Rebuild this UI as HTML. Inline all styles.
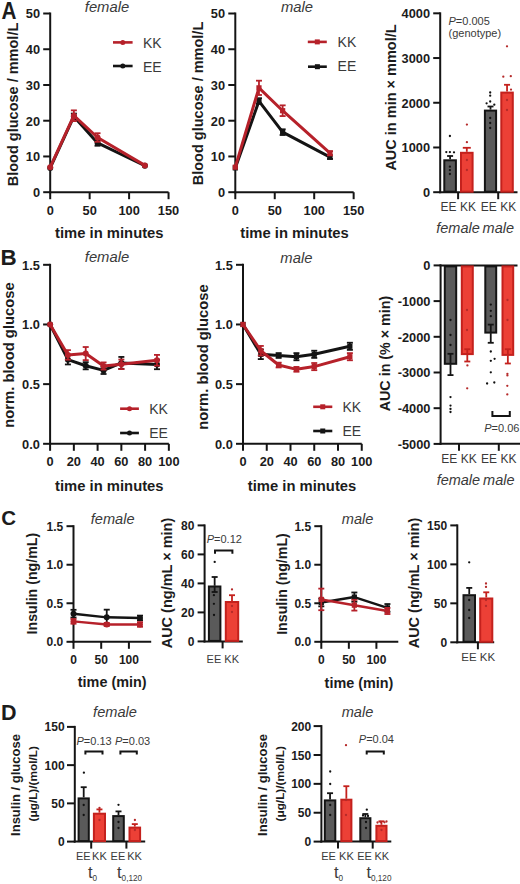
<!DOCTYPE html>
<html><head><meta charset="utf-8"><style>
html,body{margin:0;padding:0;background:#fff;width:520px;height:884px;overflow:hidden}
svg{display:block;font-family:"Liberation Sans", sans-serif}
</style></head><body>
<svg width="520" height="884" viewBox="0 0 520 884">
<text transform="translate(1.6 19) scale(0.9 1)" font-size="23" font-weight="bold" fill="#1c1c1c">A</text>
<line x1="50.2" y1="12.5" x2="50.2" y2="193.2" stroke="#141414" stroke-width="2" stroke-linecap="butt"/>
<line x1="43.2" y1="192.2" x2="50.2" y2="192.2" stroke="#141414" stroke-width="2" stroke-linecap="butt"/>
<text x="40" y="197.03" font-size="12.8" font-weight="bold" text-anchor="end" fill="#1c1c1c">0</text>
<line x1="43.2" y1="156.46" x2="50.2" y2="156.46" stroke="#141414" stroke-width="2" stroke-linecap="butt"/>
<text x="40" y="161.29" font-size="12.8" font-weight="bold" text-anchor="end" fill="#1c1c1c">10</text>
<line x1="43.2" y1="120.72" x2="50.2" y2="120.72" stroke="#141414" stroke-width="2" stroke-linecap="butt"/>
<text x="40" y="125.55" font-size="12.8" font-weight="bold" text-anchor="end" fill="#1c1c1c">20</text>
<line x1="43.2" y1="84.98" x2="50.2" y2="84.98" stroke="#141414" stroke-width="2" stroke-linecap="butt"/>
<text x="40" y="89.81" font-size="12.8" font-weight="bold" text-anchor="end" fill="#1c1c1c">30</text>
<line x1="43.2" y1="49.24" x2="50.2" y2="49.24" stroke="#141414" stroke-width="2" stroke-linecap="butt"/>
<text x="40" y="54.07" font-size="12.8" font-weight="bold" text-anchor="end" fill="#1c1c1c">40</text>
<line x1="43.2" y1="13.5" x2="50.2" y2="13.5" stroke="#141414" stroke-width="2" stroke-linecap="butt"/>
<text x="40" y="18.33" font-size="12.8" font-weight="bold" text-anchor="end" fill="#1c1c1c">50</text>
<line x1="49.2" y1="192.2" x2="168.55" y2="192.2" stroke="#141414" stroke-width="2" stroke-linecap="butt"/>
<line x1="50.2" y1="192.2" x2="50.2" y2="199.2" stroke="#141414" stroke-width="2" stroke-linecap="butt"/>
<text x="50.2" y="214.6" font-size="12.8" font-weight="bold" text-anchor="middle" fill="#1c1c1c">0</text>
<line x1="89.65" y1="192.2" x2="89.65" y2="199.2" stroke="#141414" stroke-width="2" stroke-linecap="butt"/>
<text x="89.65" y="214.6" font-size="12.8" font-weight="bold" text-anchor="middle" fill="#1c1c1c">50</text>
<line x1="129.1" y1="192.2" x2="129.1" y2="199.2" stroke="#141414" stroke-width="2" stroke-linecap="butt"/>
<text x="129.1" y="214.6" font-size="12.8" font-weight="bold" text-anchor="middle" fill="#1c1c1c">100</text>
<line x1="168.55" y1="192.2" x2="168.55" y2="199.2" stroke="#141414" stroke-width="2" stroke-linecap="butt"/>
<text x="168.55" y="214.6" font-size="12.8" font-weight="bold" text-anchor="middle" fill="#1c1c1c">150</text>
<text x="107" y="12" font-size="14.8" font-style="italic" text-anchor="middle" fill="#3a3a3a">female</text>
<text x="18.2" y="104.5" font-size="14.5" font-weight="bold" text-anchor="middle" fill="#1c1c1c" transform="rotate(-90 18.2 104.5)">Blood glucose / mmol/L</text>
<text x="109.3" y="238" font-size="14.8" font-weight="bold" text-anchor="middle" fill="#1c1c1c">time in minutes</text>
<path d="M50.20,167.90 L73.87,116.43 L97.54,142.88 L144.88,165.75" fill="none" stroke="#141414" stroke-width="3" stroke-linejoin="round"/>
<circle cx="50.2" cy="167.9" r="3" fill="#141414"/>
<line x1="73.87" y1="113.57" x2="73.87" y2="119.29" stroke="#141414" stroke-width="1.8" stroke-linecap="butt"/>
<line x1="70.87" y1="113.57" x2="76.87" y2="113.57" stroke="#141414" stroke-width="1.8" stroke-linecap="butt"/>
<line x1="70.87" y1="119.29" x2="76.87" y2="119.29" stroke="#141414" stroke-width="1.8" stroke-linecap="butt"/>
<circle cx="73.87" cy="116.43" r="3" fill="#141414"/>
<line x1="97.54" y1="140.02" x2="97.54" y2="145.74" stroke="#141414" stroke-width="1.8" stroke-linecap="butt"/>
<line x1="94.54" y1="140.02" x2="100.54" y2="140.02" stroke="#141414" stroke-width="1.8" stroke-linecap="butt"/>
<line x1="94.54" y1="145.74" x2="100.54" y2="145.74" stroke="#141414" stroke-width="1.8" stroke-linecap="butt"/>
<circle cx="97.54" cy="142.88" r="3" fill="#141414"/>
<circle cx="144.88" cy="165.75" r="3" fill="#141414"/>
<path d="M50.20,167.18 L73.87,115.72 L97.54,137.52 L144.88,165.39" fill="none" stroke="#b6212a" stroke-width="3" stroke-linejoin="round"/>
<circle cx="50.2" cy="167.18" r="3" fill="#b6212a"/>
<line x1="73.87" y1="110.36" x2="73.87" y2="121.08" stroke="#b6212a" stroke-width="1.8" stroke-linecap="butt"/>
<line x1="70.87" y1="110.36" x2="76.87" y2="110.36" stroke="#b6212a" stroke-width="1.8" stroke-linecap="butt"/>
<line x1="70.87" y1="121.08" x2="76.87" y2="121.08" stroke="#b6212a" stroke-width="1.8" stroke-linecap="butt"/>
<circle cx="73.87" cy="115.72" r="3" fill="#b6212a"/>
<line x1="97.54" y1="133.23" x2="97.54" y2="141.81" stroke="#b6212a" stroke-width="1.8" stroke-linecap="butt"/>
<line x1="94.54" y1="133.23" x2="100.54" y2="133.23" stroke="#b6212a" stroke-width="1.8" stroke-linecap="butt"/>
<line x1="94.54" y1="141.81" x2="100.54" y2="141.81" stroke="#b6212a" stroke-width="1.8" stroke-linecap="butt"/>
<circle cx="97.54" cy="137.52" r="3" fill="#b6212a"/>
<circle cx="144.88" cy="165.39" r="3" fill="#b6212a"/>
<line x1="113" y1="42.4" x2="132.6" y2="42.4" stroke="#b6212a" stroke-width="2.6" stroke-linecap="butt"/>
<circle cx="122.8" cy="42.4" r="2.5" fill="#b6212a"/>
<text x="143" y="47.5" font-size="14" text-anchor="start" fill="#3a3a3a">KK</text>
<line x1="113" y1="66" x2="132.6" y2="66" stroke="#141414" stroke-width="2.6" stroke-linecap="butt"/>
<circle cx="122.8" cy="66" r="2.5" fill="#141414"/>
<text x="143" y="71.7" font-size="14" text-anchor="start" fill="#3a3a3a">EE</text>
<line x1="235.3" y1="12.5" x2="235.3" y2="193.2" stroke="#141414" stroke-width="2" stroke-linecap="butt"/>
<line x1="228.3" y1="192.2" x2="235.3" y2="192.2" stroke="#141414" stroke-width="2" stroke-linecap="butt"/>
<text x="225.1" y="197.03" font-size="12.8" font-weight="bold" text-anchor="end" fill="#1c1c1c">0</text>
<line x1="228.3" y1="156.46" x2="235.3" y2="156.46" stroke="#141414" stroke-width="2" stroke-linecap="butt"/>
<text x="225.1" y="161.29" font-size="12.8" font-weight="bold" text-anchor="end" fill="#1c1c1c">10</text>
<line x1="228.3" y1="120.72" x2="235.3" y2="120.72" stroke="#141414" stroke-width="2" stroke-linecap="butt"/>
<text x="225.1" y="125.55" font-size="12.8" font-weight="bold" text-anchor="end" fill="#1c1c1c">20</text>
<line x1="228.3" y1="84.98" x2="235.3" y2="84.98" stroke="#141414" stroke-width="2" stroke-linecap="butt"/>
<text x="225.1" y="89.81" font-size="12.8" font-weight="bold" text-anchor="end" fill="#1c1c1c">30</text>
<line x1="228.3" y1="49.24" x2="235.3" y2="49.24" stroke="#141414" stroke-width="2" stroke-linecap="butt"/>
<text x="225.1" y="54.07" font-size="12.8" font-weight="bold" text-anchor="end" fill="#1c1c1c">40</text>
<line x1="228.3" y1="13.5" x2="235.3" y2="13.5" stroke="#141414" stroke-width="2" stroke-linecap="butt"/>
<text x="225.1" y="18.33" font-size="12.8" font-weight="bold" text-anchor="end" fill="#1c1c1c">50</text>
<line x1="234.3" y1="192.2" x2="353.65" y2="192.2" stroke="#141414" stroke-width="2" stroke-linecap="butt"/>
<line x1="235.3" y1="192.2" x2="235.3" y2="199.2" stroke="#141414" stroke-width="2" stroke-linecap="butt"/>
<text x="235.3" y="214.6" font-size="12.8" font-weight="bold" text-anchor="middle" fill="#1c1c1c">0</text>
<line x1="274.75" y1="192.2" x2="274.75" y2="199.2" stroke="#141414" stroke-width="2" stroke-linecap="butt"/>
<text x="274.75" y="214.6" font-size="12.8" font-weight="bold" text-anchor="middle" fill="#1c1c1c">50</text>
<line x1="314.2" y1="192.2" x2="314.2" y2="199.2" stroke="#141414" stroke-width="2" stroke-linecap="butt"/>
<text x="314.2" y="214.6" font-size="12.8" font-weight="bold" text-anchor="middle" fill="#1c1c1c">100</text>
<line x1="353.65" y1="192.2" x2="353.65" y2="199.2" stroke="#141414" stroke-width="2" stroke-linecap="butt"/>
<text x="353.65" y="214.6" font-size="12.8" font-weight="bold" text-anchor="middle" fill="#1c1c1c">150</text>
<text x="297" y="12.1" font-size="14.8" font-style="italic" text-anchor="middle" fill="#3a3a3a">male</text>
<text x="203.2" y="103.5" font-size="14.5" font-weight="bold" text-anchor="middle" fill="#1c1c1c" transform="rotate(-90 203.2 103.5)">Blood glucose / mmol/L</text>
<text x="294.5" y="238" font-size="14.8" font-weight="bold" text-anchor="middle" fill="#1c1c1c">time in minutes</text>
<path d="M235.30,167.90 L258.97,101.06 L282.64,132.16 L329.98,157.17" fill="none" stroke="#141414" stroke-width="3" stroke-linejoin="round"/>
<rect x="232.7" y="165.3" width="5.2" height="5.2" fill="#141414"/>
<line x1="258.97" y1="98.2" x2="258.97" y2="103.92" stroke="#141414" stroke-width="1.8" stroke-linecap="butt"/>
<line x1="255.97" y1="98.2" x2="261.97" y2="98.2" stroke="#141414" stroke-width="1.8" stroke-linecap="butt"/>
<line x1="255.97" y1="103.92" x2="261.97" y2="103.92" stroke="#141414" stroke-width="1.8" stroke-linecap="butt"/>
<rect x="256.37" y="98.46" width="5.2" height="5.2" fill="#141414"/>
<line x1="282.64" y1="129.3" x2="282.64" y2="135.02" stroke="#141414" stroke-width="1.8" stroke-linecap="butt"/>
<line x1="279.64" y1="129.3" x2="285.64" y2="129.3" stroke="#141414" stroke-width="1.8" stroke-linecap="butt"/>
<line x1="279.64" y1="135.02" x2="285.64" y2="135.02" stroke="#141414" stroke-width="1.8" stroke-linecap="butt"/>
<rect x="280.04" y="129.56" width="5.2" height="5.2" fill="#141414"/>
<line x1="329.98" y1="155.39" x2="329.98" y2="158.96" stroke="#141414" stroke-width="1.8" stroke-linecap="butt"/>
<line x1="326.98" y1="155.39" x2="332.98" y2="155.39" stroke="#141414" stroke-width="1.8" stroke-linecap="butt"/>
<line x1="326.98" y1="158.96" x2="332.98" y2="158.96" stroke="#141414" stroke-width="1.8" stroke-linecap="butt"/>
<rect x="327.38" y="154.57" width="5.2" height="5.2" fill="#141414"/>
<path d="M235.30,167.18 L258.97,87.84 L282.64,110.71 L329.98,153.24" fill="none" stroke="#b6212a" stroke-width="3" stroke-linejoin="round"/>
<rect x="232.7" y="164.58" width="5.2" height="5.2" fill="#b6212a"/>
<line x1="258.97" y1="80.69" x2="258.97" y2="94.99" stroke="#b6212a" stroke-width="1.8" stroke-linecap="butt"/>
<line x1="255.97" y1="80.69" x2="261.97" y2="80.69" stroke="#b6212a" stroke-width="1.8" stroke-linecap="butt"/>
<line x1="255.97" y1="94.99" x2="261.97" y2="94.99" stroke="#b6212a" stroke-width="1.8" stroke-linecap="butt"/>
<rect x="256.37" y="85.24" width="5.2" height="5.2" fill="#b6212a"/>
<line x1="282.64" y1="105.35" x2="282.64" y2="116.07" stroke="#b6212a" stroke-width="1.8" stroke-linecap="butt"/>
<line x1="279.64" y1="105.35" x2="285.64" y2="105.35" stroke="#b6212a" stroke-width="1.8" stroke-linecap="butt"/>
<line x1="279.64" y1="116.07" x2="285.64" y2="116.07" stroke="#b6212a" stroke-width="1.8" stroke-linecap="butt"/>
<rect x="280.04" y="108.11" width="5.2" height="5.2" fill="#b6212a"/>
<line x1="329.98" y1="151.1" x2="329.98" y2="155.39" stroke="#b6212a" stroke-width="1.8" stroke-linecap="butt"/>
<line x1="326.98" y1="151.1" x2="332.98" y2="151.1" stroke="#b6212a" stroke-width="1.8" stroke-linecap="butt"/>
<line x1="326.98" y1="155.39" x2="332.98" y2="155.39" stroke="#b6212a" stroke-width="1.8" stroke-linecap="butt"/>
<rect x="327.38" y="150.64" width="5.2" height="5.2" fill="#b6212a"/>
<line x1="307.8" y1="41.9" x2="326.8" y2="41.9" stroke="#b6212a" stroke-width="2.6" stroke-linecap="butt"/>
<rect x="314.8" y="39.4" width="5" height="5" fill="#b6212a"/>
<text x="337.6" y="47.3" font-size="14" text-anchor="start" fill="#3a3a3a">KK</text>
<line x1="308" y1="66.7" x2="326.8" y2="66.7" stroke="#141414" stroke-width="2.6" stroke-linecap="butt"/>
<rect x="314.9" y="64.2" width="5" height="5" fill="#141414"/>
<text x="337.6" y="71" font-size="14" text-anchor="start" fill="#3a3a3a">EE</text>
<line x1="440.2" y1="12.32" x2="440.2" y2="193.2" stroke="#141414" stroke-width="2" stroke-linecap="butt"/>
<line x1="433.2" y1="192.2" x2="440.2" y2="192.2" stroke="#141414" stroke-width="2" stroke-linecap="butt"/>
<text x="430" y="197.03" font-size="12.8" font-weight="bold" text-anchor="end" fill="#1c1c1c">0</text>
<line x1="433.2" y1="147.48" x2="440.2" y2="147.48" stroke="#141414" stroke-width="2" stroke-linecap="butt"/>
<text x="430" y="152.31" font-size="12.8" font-weight="bold" text-anchor="end" fill="#1c1c1c">1000</text>
<line x1="433.2" y1="102.76" x2="440.2" y2="102.76" stroke="#141414" stroke-width="2" stroke-linecap="butt"/>
<text x="430" y="107.59" font-size="12.8" font-weight="bold" text-anchor="end" fill="#1c1c1c">2000</text>
<line x1="433.2" y1="58.04" x2="440.2" y2="58.04" stroke="#141414" stroke-width="2" stroke-linecap="butt"/>
<text x="430" y="62.87" font-size="12.8" font-weight="bold" text-anchor="end" fill="#1c1c1c">3000</text>
<line x1="433.2" y1="13.32" x2="440.2" y2="13.32" stroke="#141414" stroke-width="2" stroke-linecap="butt"/>
<text x="430" y="18.15" font-size="12.8" font-weight="bold" text-anchor="end" fill="#1c1c1c">4000</text>
<line x1="439.2" y1="192.2" x2="517.5" y2="192.2" stroke="#141414" stroke-width="2" stroke-linecap="butt"/>
<line x1="458.1" y1="192.2" x2="458.1" y2="199.2" stroke="#141414" stroke-width="2" stroke-linecap="butt"/>
<line x1="498.2" y1="192.2" x2="498.2" y2="199.2" stroke="#141414" stroke-width="2" stroke-linecap="butt"/>
<rect x="444.3" y="160.3" width="11.6" height="31.4" fill="#5a5a5a" stroke="#141414" stroke-width="2"/>
<line x1="450.1" y1="159.3" x2="450.1" y2="156" stroke="#141414" stroke-width="1.8" stroke-linecap="butt"/>
<line x1="447.1" y1="156" x2="453.1" y2="156" stroke="#141414" stroke-width="1.8" stroke-linecap="butt"/>
<circle cx="449.9" cy="136" r="1.15" fill="#111"/>
<circle cx="446.3" cy="152.1" r="1.15" fill="#111"/>
<circle cx="449.9" cy="152.1" r="1.15" fill="#111"/>
<circle cx="454" cy="152.3" r="1.15" fill="#111"/>
<circle cx="449.9" cy="166.7" r="1.15" fill="#111"/>
<circle cx="449.9" cy="170.1" r="1.15" fill="#111"/>
<circle cx="449.9" cy="174" r="1.15" fill="#111"/>
<rect x="461" y="152.8" width="11.6" height="38.9" fill="#ec4036" stroke="#c4211d" stroke-width="2"/>
<line x1="466.8" y1="151.8" x2="466.8" y2="147.8" stroke="#c4211d" stroke-width="1.8" stroke-linecap="butt"/>
<line x1="462.8" y1="147.8" x2="470.8" y2="147.8" stroke="#c4211d" stroke-width="1.8" stroke-linecap="butt"/>
<circle cx="466.9" cy="124.6" r="1.15" fill="#b52a2a"/>
<circle cx="466.9" cy="142.2" r="1.15" fill="#b52a2a"/>
<circle cx="466.9" cy="160" r="1.15" fill="#b52a2a"/>
<circle cx="466.9" cy="170" r="1.15" fill="#b52a2a"/>
<rect x="484.9" y="110.6" width="11.2" height="81.1" fill="#5a5a5a" stroke="#141414" stroke-width="2"/>
<line x1="490.5" y1="109.6" x2="490.5" y2="106.5" stroke="#141414" stroke-width="1.8" stroke-linecap="butt"/>
<line x1="487.5" y1="106.5" x2="493.5" y2="106.5" stroke="#141414" stroke-width="1.8" stroke-linecap="butt"/>
<circle cx="490.2" cy="92.5" r="1.15" fill="#111"/>
<circle cx="490.2" cy="95.7" r="1.15" fill="#111"/>
<circle cx="490.2" cy="101.5" r="1.15" fill="#111"/>
<circle cx="486.6" cy="103.3" r="1.15" fill="#111"/>
<circle cx="494.3" cy="104.7" r="1.15" fill="#111"/>
<circle cx="490.2" cy="118" r="1.15" fill="#111"/>
<circle cx="490.2" cy="123" r="1.15" fill="#111"/>
<circle cx="490.2" cy="128" r="1.15" fill="#111"/>
<rect x="501.3" y="92.6" width="11.5" height="99.1" fill="#ec4036" stroke="#c4211d" stroke-width="2"/>
<line x1="507.05" y1="91.6" x2="507.05" y2="84.8" stroke="#c4211d" stroke-width="1.8" stroke-linecap="butt"/>
<line x1="504.05" y1="84.8" x2="510.05" y2="84.8" stroke="#c4211d" stroke-width="1.8" stroke-linecap="butt"/>
<circle cx="507" cy="46.3" r="1.15" fill="#b52a2a"/>
<circle cx="503.3" cy="76.7" r="1.15" fill="#b52a2a"/>
<circle cx="510.8" cy="76.2" r="1.15" fill="#b52a2a"/>
<circle cx="511" cy="89.6" r="1.15" fill="#b52a2a"/>
<circle cx="507" cy="100" r="1.15" fill="#b52a2a"/>
<circle cx="507" cy="110" r="1.15" fill="#b52a2a"/>
<text x="395.6" y="97.5" font-size="14.5" font-weight="bold" text-anchor="middle" fill="#1c1c1c" transform="rotate(-90 395.6 97.5)">AUC in min × mmol/L</text>
<text x="448.5" y="24.6" font-size="11" fill="#3a3a3a"><tspan font-style="italic">P</tspan>=0.005</text>
<text x="448.5" y="37.4" font-size="11" text-anchor="start" fill="#3a3a3a">(genotype)</text>
<text x="458.3" y="210.8" font-size="12" text-anchor="middle" fill="#3a3a3a">EE KK</text>
<text x="498.5" y="210.8" font-size="12" text-anchor="middle" fill="#3a3a3a">EE KK</text>
<text x="458" y="233.3" font-size="14.5" font-style="italic" text-anchor="middle" fill="#3a3a3a">female</text>
<text x="498.3" y="233.3" font-size="14.5" font-style="italic" text-anchor="middle" fill="#3a3a3a">male</text>
<text x="0.5" y="265.2" font-size="22.4" font-weight="bold" text-anchor="start" fill="#1c1c1c">B</text>
<line x1="50.1" y1="263.81" x2="50.1" y2="444.8" stroke="#141414" stroke-width="2" stroke-linecap="butt"/>
<line x1="43.1" y1="443.8" x2="50.1" y2="443.8" stroke="#141414" stroke-width="2" stroke-linecap="butt"/>
<text x="39.9" y="448.63" font-size="12.8" font-weight="bold" text-anchor="end" fill="#1c1c1c">0.0</text>
<line x1="43.1" y1="384.13" x2="50.1" y2="384.13" stroke="#141414" stroke-width="2" stroke-linecap="butt"/>
<text x="39.9" y="388.96" font-size="12.8" font-weight="bold" text-anchor="end" fill="#1c1c1c">0.5</text>
<line x1="43.1" y1="324.47" x2="50.1" y2="324.47" stroke="#141414" stroke-width="2" stroke-linecap="butt"/>
<text x="39.9" y="329.3" font-size="12.8" font-weight="bold" text-anchor="end" fill="#1c1c1c">1.0</text>
<line x1="43.1" y1="264.81" x2="50.1" y2="264.81" stroke="#141414" stroke-width="2" stroke-linecap="butt"/>
<text x="39.9" y="269.63" font-size="12.8" font-weight="bold" text-anchor="end" fill="#1c1c1c">1.5</text>
<line x1="49.1" y1="443.8" x2="168.85" y2="443.8" stroke="#141414" stroke-width="2" stroke-linecap="butt"/>
<line x1="50.1" y1="443.8" x2="50.1" y2="450.8" stroke="#141414" stroke-width="2" stroke-linecap="butt"/>
<text x="50.1" y="466.2" font-size="12.8" font-weight="bold" text-anchor="middle" fill="#1c1c1c">0</text>
<line x1="73.85" y1="443.8" x2="73.85" y2="450.8" stroke="#141414" stroke-width="2" stroke-linecap="butt"/>
<text x="73.85" y="466.2" font-size="12.8" font-weight="bold" text-anchor="middle" fill="#1c1c1c">20</text>
<line x1="97.6" y1="443.8" x2="97.6" y2="450.8" stroke="#141414" stroke-width="2" stroke-linecap="butt"/>
<text x="97.6" y="466.2" font-size="12.8" font-weight="bold" text-anchor="middle" fill="#1c1c1c">40</text>
<line x1="121.35" y1="443.8" x2="121.35" y2="450.8" stroke="#141414" stroke-width="2" stroke-linecap="butt"/>
<text x="121.35" y="466.2" font-size="12.8" font-weight="bold" text-anchor="middle" fill="#1c1c1c">60</text>
<line x1="145.1" y1="443.8" x2="145.1" y2="450.8" stroke="#141414" stroke-width="2" stroke-linecap="butt"/>
<text x="145.1" y="466.2" font-size="12.8" font-weight="bold" text-anchor="middle" fill="#1c1c1c">80</text>
<line x1="168.85" y1="443.8" x2="168.85" y2="450.8" stroke="#141414" stroke-width="2" stroke-linecap="butt"/>
<text x="168.85" y="466.2" font-size="12.8" font-weight="bold" text-anchor="middle" fill="#1c1c1c">100</text>
<text x="107" y="262.2" font-size="14.8" font-style="italic" text-anchor="middle" fill="#3a3a3a">female</text>
<text x="14.3" y="355" font-size="14.8" font-weight="bold" text-anchor="middle" fill="#1c1c1c" transform="rotate(-90 14.3 355)">norm. blood glucose</text>
<text x="109.3" y="490.6" font-size="14.8" font-weight="bold" text-anchor="middle" fill="#1c1c1c">time in minutes</text>
<path d="M50.10,324.47 L67.91,359.67 L85.72,365.76 L103.54,370.41 L121.35,362.89 L156.97,364.45" fill="none" stroke="#141414" stroke-width="3" stroke-linejoin="round"/>
<circle cx="50.1" cy="324.47" r="3" fill="#141414"/>
<line x1="67.91" y1="354.9" x2="67.91" y2="364.45" stroke="#141414" stroke-width="1.8" stroke-linecap="butt"/>
<line x1="64.91" y1="354.9" x2="70.91" y2="354.9" stroke="#141414" stroke-width="1.8" stroke-linecap="butt"/>
<line x1="64.91" y1="364.45" x2="70.91" y2="364.45" stroke="#141414" stroke-width="1.8" stroke-linecap="butt"/>
<circle cx="67.91" cy="359.67" r="3" fill="#141414"/>
<line x1="85.72" y1="362.18" x2="85.72" y2="369.34" stroke="#141414" stroke-width="1.8" stroke-linecap="butt"/>
<line x1="82.72" y1="362.18" x2="88.72" y2="362.18" stroke="#141414" stroke-width="1.8" stroke-linecap="butt"/>
<line x1="82.72" y1="369.34" x2="88.72" y2="369.34" stroke="#141414" stroke-width="1.8" stroke-linecap="butt"/>
<circle cx="85.72" cy="365.76" r="3" fill="#141414"/>
<line x1="103.54" y1="366.83" x2="103.54" y2="373.99" stroke="#141414" stroke-width="1.8" stroke-linecap="butt"/>
<line x1="100.54" y1="366.83" x2="106.54" y2="366.83" stroke="#141414" stroke-width="1.8" stroke-linecap="butt"/>
<line x1="100.54" y1="373.99" x2="106.54" y2="373.99" stroke="#141414" stroke-width="1.8" stroke-linecap="butt"/>
<circle cx="103.54" cy="370.41" r="3" fill="#141414"/>
<line x1="121.35" y1="356.93" x2="121.35" y2="368.86" stroke="#141414" stroke-width="1.8" stroke-linecap="butt"/>
<line x1="118.35" y1="356.93" x2="124.35" y2="356.93" stroke="#141414" stroke-width="1.8" stroke-linecap="butt"/>
<line x1="118.35" y1="368.86" x2="124.35" y2="368.86" stroke="#141414" stroke-width="1.8" stroke-linecap="butt"/>
<circle cx="121.35" cy="362.89" r="3" fill="#141414"/>
<line x1="156.97" y1="359.67" x2="156.97" y2="369.22" stroke="#141414" stroke-width="1.8" stroke-linecap="butt"/>
<line x1="153.97" y1="359.67" x2="159.97" y2="359.67" stroke="#141414" stroke-width="1.8" stroke-linecap="butt"/>
<line x1="153.97" y1="369.22" x2="159.97" y2="369.22" stroke="#141414" stroke-width="1.8" stroke-linecap="butt"/>
<circle cx="156.97" cy="364.45" r="3" fill="#141414"/>
<path d="M50.10,324.47 L67.91,354.90 L85.72,353.59 L103.54,366.00 L121.35,364.33 L156.97,360.27" fill="none" stroke="#b6212a" stroke-width="3" stroke-linejoin="round"/>
<circle cx="50.1" cy="324.47" r="3" fill="#b6212a"/>
<line x1="67.91" y1="350.13" x2="67.91" y2="359.67" stroke="#b6212a" stroke-width="1.8" stroke-linecap="butt"/>
<line x1="64.91" y1="350.13" x2="70.91" y2="350.13" stroke="#b6212a" stroke-width="1.8" stroke-linecap="butt"/>
<line x1="64.91" y1="359.67" x2="70.91" y2="359.67" stroke="#b6212a" stroke-width="1.8" stroke-linecap="butt"/>
<circle cx="67.91" cy="354.9" r="3" fill="#b6212a"/>
<line x1="85.72" y1="347.02" x2="85.72" y2="360.15" stroke="#b6212a" stroke-width="1.8" stroke-linecap="butt"/>
<line x1="82.72" y1="347.02" x2="88.72" y2="347.02" stroke="#b6212a" stroke-width="1.8" stroke-linecap="butt"/>
<line x1="82.72" y1="360.15" x2="88.72" y2="360.15" stroke="#b6212a" stroke-width="1.8" stroke-linecap="butt"/>
<circle cx="85.72" cy="353.59" r="3" fill="#b6212a"/>
<line x1="103.54" y1="362.42" x2="103.54" y2="369.58" stroke="#b6212a" stroke-width="1.8" stroke-linecap="butt"/>
<line x1="100.54" y1="362.42" x2="106.54" y2="362.42" stroke="#b6212a" stroke-width="1.8" stroke-linecap="butt"/>
<line x1="100.54" y1="369.58" x2="106.54" y2="369.58" stroke="#b6212a" stroke-width="1.8" stroke-linecap="butt"/>
<circle cx="103.54" cy="366" r="3" fill="#b6212a"/>
<line x1="121.35" y1="359.55" x2="121.35" y2="369.1" stroke="#b6212a" stroke-width="1.8" stroke-linecap="butt"/>
<line x1="118.35" y1="359.55" x2="124.35" y2="359.55" stroke="#b6212a" stroke-width="1.8" stroke-linecap="butt"/>
<line x1="118.35" y1="369.1" x2="124.35" y2="369.1" stroke="#b6212a" stroke-width="1.8" stroke-linecap="butt"/>
<circle cx="121.35" cy="364.33" r="3" fill="#b6212a"/>
<line x1="156.97" y1="354.9" x2="156.97" y2="365.64" stroke="#b6212a" stroke-width="1.8" stroke-linecap="butt"/>
<line x1="153.97" y1="354.9" x2="159.97" y2="354.9" stroke="#b6212a" stroke-width="1.8" stroke-linecap="butt"/>
<line x1="153.97" y1="365.64" x2="159.97" y2="365.64" stroke="#b6212a" stroke-width="1.8" stroke-linecap="butt"/>
<circle cx="156.97" cy="360.27" r="3" fill="#b6212a"/>
<line x1="120.1" y1="408.7" x2="138.9" y2="408.7" stroke="#b6212a" stroke-width="2.6" stroke-linecap="butt"/>
<circle cx="129.5" cy="408.7" r="2.5" fill="#b6212a"/>
<text x="149.2" y="413.8" font-size="14" text-anchor="start" fill="#3a3a3a">KK</text>
<line x1="120.1" y1="433" x2="138.9" y2="433" stroke="#141414" stroke-width="2.6" stroke-linecap="butt"/>
<circle cx="129.5" cy="433" r="2.5" fill="#141414"/>
<text x="149.2" y="438.3" font-size="14" text-anchor="start" fill="#3a3a3a">EE</text>
<line x1="243" y1="263.81" x2="243" y2="444.8" stroke="#141414" stroke-width="2" stroke-linecap="butt"/>
<line x1="236" y1="443.8" x2="243" y2="443.8" stroke="#141414" stroke-width="2" stroke-linecap="butt"/>
<text x="232.8" y="448.63" font-size="12.8" font-weight="bold" text-anchor="end" fill="#1c1c1c">0.0</text>
<line x1="236" y1="384.13" x2="243" y2="384.13" stroke="#141414" stroke-width="2" stroke-linecap="butt"/>
<text x="232.8" y="388.96" font-size="12.8" font-weight="bold" text-anchor="end" fill="#1c1c1c">0.5</text>
<line x1="236" y1="324.47" x2="243" y2="324.47" stroke="#141414" stroke-width="2" stroke-linecap="butt"/>
<text x="232.8" y="329.3" font-size="12.8" font-weight="bold" text-anchor="end" fill="#1c1c1c">1.0</text>
<line x1="236" y1="264.81" x2="243" y2="264.81" stroke="#141414" stroke-width="2" stroke-linecap="butt"/>
<text x="232.8" y="269.63" font-size="12.8" font-weight="bold" text-anchor="end" fill="#1c1c1c">1.5</text>
<line x1="242" y1="443.8" x2="361.75" y2="443.8" stroke="#141414" stroke-width="2" stroke-linecap="butt"/>
<line x1="243" y1="443.8" x2="243" y2="450.8" stroke="#141414" stroke-width="2" stroke-linecap="butt"/>
<text x="243" y="466.2" font-size="12.8" font-weight="bold" text-anchor="middle" fill="#1c1c1c">0</text>
<line x1="266.75" y1="443.8" x2="266.75" y2="450.8" stroke="#141414" stroke-width="2" stroke-linecap="butt"/>
<text x="266.75" y="466.2" font-size="12.8" font-weight="bold" text-anchor="middle" fill="#1c1c1c">20</text>
<line x1="290.5" y1="443.8" x2="290.5" y2="450.8" stroke="#141414" stroke-width="2" stroke-linecap="butt"/>
<text x="290.5" y="466.2" font-size="12.8" font-weight="bold" text-anchor="middle" fill="#1c1c1c">40</text>
<line x1="314.25" y1="443.8" x2="314.25" y2="450.8" stroke="#141414" stroke-width="2" stroke-linecap="butt"/>
<text x="314.25" y="466.2" font-size="12.8" font-weight="bold" text-anchor="middle" fill="#1c1c1c">60</text>
<line x1="338" y1="443.8" x2="338" y2="450.8" stroke="#141414" stroke-width="2" stroke-linecap="butt"/>
<text x="338" y="466.2" font-size="12.8" font-weight="bold" text-anchor="middle" fill="#1c1c1c">80</text>
<line x1="361.75" y1="443.8" x2="361.75" y2="450.8" stroke="#141414" stroke-width="2" stroke-linecap="butt"/>
<text x="361.75" y="466.2" font-size="12.8" font-weight="bold" text-anchor="middle" fill="#1c1c1c">100</text>
<text x="296.4" y="262.7" font-size="14.8" font-style="italic" text-anchor="middle" fill="#3a3a3a">male</text>
<text x="207.5" y="357" font-size="14.8" font-weight="bold" text-anchor="middle" fill="#1c1c1c" transform="rotate(-90 207.5 357)">norm. blood glucose</text>
<text x="302" y="490.6" font-size="14.8" font-weight="bold" text-anchor="middle" fill="#1c1c1c">time in minutes</text>
<path d="M243.00,324.47 L260.81,354.30 L278.62,355.50 L296.44,356.69 L314.25,354.30 L349.88,346.31" fill="none" stroke="#141414" stroke-width="3" stroke-linejoin="round"/>
<rect x="240.4" y="321.87" width="5.2" height="5.2" fill="#141414"/>
<line x1="260.81" y1="349.53" x2="260.81" y2="359.08" stroke="#141414" stroke-width="1.8" stroke-linecap="butt"/>
<line x1="257.81" y1="349.53" x2="263.81" y2="349.53" stroke="#141414" stroke-width="1.8" stroke-linecap="butt"/>
<line x1="257.81" y1="359.08" x2="263.81" y2="359.08" stroke="#141414" stroke-width="1.8" stroke-linecap="butt"/>
<rect x="258.21" y="351.7" width="5.2" height="5.2" fill="#141414"/>
<line x1="278.62" y1="353.11" x2="278.62" y2="357.88" stroke="#141414" stroke-width="1.8" stroke-linecap="butt"/>
<line x1="275.62" y1="353.11" x2="281.62" y2="353.11" stroke="#141414" stroke-width="1.8" stroke-linecap="butt"/>
<line x1="275.62" y1="357.88" x2="281.62" y2="357.88" stroke="#141414" stroke-width="1.8" stroke-linecap="butt"/>
<rect x="276.02" y="352.9" width="5.2" height="5.2" fill="#141414"/>
<line x1="296.44" y1="353.11" x2="296.44" y2="360.27" stroke="#141414" stroke-width="1.8" stroke-linecap="butt"/>
<line x1="293.44" y1="353.11" x2="299.44" y2="353.11" stroke="#141414" stroke-width="1.8" stroke-linecap="butt"/>
<line x1="293.44" y1="360.27" x2="299.44" y2="360.27" stroke="#141414" stroke-width="1.8" stroke-linecap="butt"/>
<rect x="293.84" y="354.09" width="5.2" height="5.2" fill="#141414"/>
<line x1="314.25" y1="350.72" x2="314.25" y2="357.88" stroke="#141414" stroke-width="1.8" stroke-linecap="butt"/>
<line x1="311.25" y1="350.72" x2="317.25" y2="350.72" stroke="#141414" stroke-width="1.8" stroke-linecap="butt"/>
<line x1="311.25" y1="357.88" x2="317.25" y2="357.88" stroke="#141414" stroke-width="1.8" stroke-linecap="butt"/>
<rect x="311.65" y="351.7" width="5.2" height="5.2" fill="#141414"/>
<line x1="349.88" y1="342.73" x2="349.88" y2="349.89" stroke="#141414" stroke-width="1.8" stroke-linecap="butt"/>
<line x1="346.88" y1="342.73" x2="352.88" y2="342.73" stroke="#141414" stroke-width="1.8" stroke-linecap="butt"/>
<line x1="346.88" y1="349.89" x2="352.88" y2="349.89" stroke="#141414" stroke-width="1.8" stroke-linecap="butt"/>
<rect x="347.27" y="343.71" width="5.2" height="5.2" fill="#141414"/>
<path d="M243.00,324.47 L260.81,350.72 L278.62,365.04 L296.44,369.34 L314.25,366.59 L349.88,356.69" fill="none" stroke="#b6212a" stroke-width="3" stroke-linejoin="round"/>
<rect x="240.4" y="321.87" width="5.2" height="5.2" fill="#b6212a"/>
<line x1="260.81" y1="345.95" x2="260.81" y2="355.5" stroke="#b6212a" stroke-width="1.8" stroke-linecap="butt"/>
<line x1="257.81" y1="345.95" x2="263.81" y2="345.95" stroke="#b6212a" stroke-width="1.8" stroke-linecap="butt"/>
<line x1="257.81" y1="355.5" x2="263.81" y2="355.5" stroke="#b6212a" stroke-width="1.8" stroke-linecap="butt"/>
<rect x="258.21" y="348.12" width="5.2" height="5.2" fill="#b6212a"/>
<line x1="278.62" y1="362.66" x2="278.62" y2="367.43" stroke="#b6212a" stroke-width="1.8" stroke-linecap="butt"/>
<line x1="275.62" y1="362.66" x2="281.62" y2="362.66" stroke="#b6212a" stroke-width="1.8" stroke-linecap="butt"/>
<line x1="275.62" y1="367.43" x2="281.62" y2="367.43" stroke="#b6212a" stroke-width="1.8" stroke-linecap="butt"/>
<rect x="276.02" y="362.44" width="5.2" height="5.2" fill="#b6212a"/>
<line x1="296.44" y1="366.95" x2="296.44" y2="371.72" stroke="#b6212a" stroke-width="1.8" stroke-linecap="butt"/>
<line x1="293.44" y1="366.95" x2="299.44" y2="366.95" stroke="#b6212a" stroke-width="1.8" stroke-linecap="butt"/>
<line x1="293.44" y1="371.72" x2="299.44" y2="371.72" stroke="#b6212a" stroke-width="1.8" stroke-linecap="butt"/>
<rect x="293.84" y="366.74" width="5.2" height="5.2" fill="#b6212a"/>
<line x1="314.25" y1="363.01" x2="314.25" y2="370.17" stroke="#b6212a" stroke-width="1.8" stroke-linecap="butt"/>
<line x1="311.25" y1="363.01" x2="317.25" y2="363.01" stroke="#b6212a" stroke-width="1.8" stroke-linecap="butt"/>
<line x1="311.25" y1="370.17" x2="317.25" y2="370.17" stroke="#b6212a" stroke-width="1.8" stroke-linecap="butt"/>
<rect x="311.65" y="363.99" width="5.2" height="5.2" fill="#b6212a"/>
<line x1="349.88" y1="353.11" x2="349.88" y2="360.27" stroke="#b6212a" stroke-width="1.8" stroke-linecap="butt"/>
<line x1="346.88" y1="353.11" x2="352.88" y2="353.11" stroke="#b6212a" stroke-width="1.8" stroke-linecap="butt"/>
<line x1="346.88" y1="360.27" x2="352.88" y2="360.27" stroke="#b6212a" stroke-width="1.8" stroke-linecap="butt"/>
<rect x="347.27" y="354.09" width="5.2" height="5.2" fill="#b6212a"/>
<line x1="313.2" y1="406.8" x2="332.3" y2="406.8" stroke="#b6212a" stroke-width="2.6" stroke-linecap="butt"/>
<rect x="320.25" y="404.3" width="5" height="5" fill="#b6212a"/>
<text x="342.5" y="411.8" font-size="14" text-anchor="start" fill="#3a3a3a">KK</text>
<line x1="313.2" y1="431" x2="332.3" y2="431" stroke="#141414" stroke-width="2.6" stroke-linecap="butt"/>
<rect x="320.25" y="428.5" width="5" height="5" fill="#141414"/>
<text x="342.5" y="435.8" font-size="14" text-anchor="start" fill="#3a3a3a">EE</text>
<line x1="440.6" y1="264.4" x2="440.6" y2="444.9" stroke="#141414" stroke-width="2" stroke-linecap="butt"/>
<line x1="433.6" y1="265.4" x2="440.6" y2="265.4" stroke="#141414" stroke-width="2" stroke-linecap="butt"/>
<text x="430.4" y="270.23" font-size="12.8" font-weight="bold" text-anchor="end" fill="#1c1c1c">0</text>
<line x1="433.6" y1="301.1" x2="440.6" y2="301.1" stroke="#141414" stroke-width="2" stroke-linecap="butt"/>
<text x="430.4" y="305.93" font-size="12.8" font-weight="bold" text-anchor="end" fill="#1c1c1c">-1000</text>
<line x1="433.6" y1="336.8" x2="440.6" y2="336.8" stroke="#141414" stroke-width="2" stroke-linecap="butt"/>
<text x="430.4" y="341.63" font-size="12.8" font-weight="bold" text-anchor="end" fill="#1c1c1c">-2000</text>
<line x1="433.6" y1="372.5" x2="440.6" y2="372.5" stroke="#141414" stroke-width="2" stroke-linecap="butt"/>
<text x="430.4" y="377.33" font-size="12.8" font-weight="bold" text-anchor="end" fill="#1c1c1c">-3000</text>
<line x1="433.6" y1="408.2" x2="440.6" y2="408.2" stroke="#141414" stroke-width="2" stroke-linecap="butt"/>
<text x="430.4" y="413.03" font-size="12.8" font-weight="bold" text-anchor="end" fill="#1c1c1c">-4000</text>
<line x1="433.6" y1="443.9" x2="440.6" y2="443.9" stroke="#141414" stroke-width="2" stroke-linecap="butt"/>
<text x="430.4" y="448.73" font-size="12.8" font-weight="bold" text-anchor="end" fill="#1c1c1c">-5000</text>
<line x1="439.6" y1="265.4" x2="517.5" y2="265.4" stroke="#141414" stroke-width="2" stroke-linecap="butt"/>
<line x1="439.6" y1="443.8" x2="520" y2="443.8" stroke="#141414" stroke-width="2" stroke-linecap="butt"/>
<line x1="459" y1="443.8" x2="459" y2="450.8" stroke="#141414" stroke-width="2" stroke-linecap="butt"/>
<line x1="498.8" y1="443.8" x2="498.8" y2="450.8" stroke="#141414" stroke-width="2" stroke-linecap="butt"/>
<rect x="444.8" y="266.4" width="11.4" height="97.4" fill="#5a5a5a" stroke="#141414" stroke-width="2"/>
<line x1="450.5" y1="364.3" x2="450.5" y2="375.1" stroke="#141414" stroke-width="1.8" stroke-linecap="butt"/>
<line x1="447.5" y1="375.1" x2="453.5" y2="375.1" stroke="#141414" stroke-width="1.8" stroke-linecap="butt"/>
<line x1="450.5" y1="364.3" x2="450.5" y2="353.8" stroke="#141414" stroke-width="1.8" stroke-linecap="butt"/>
<line x1="447.5" y1="353.8" x2="453.5" y2="353.8" stroke="#141414" stroke-width="1.8" stroke-linecap="butt"/>
<circle cx="450.5" cy="397.1" r="1.15" fill="#111"/>
<circle cx="450.5" cy="405.6" r="1.15" fill="#111"/>
<circle cx="450.5" cy="408.9" r="1.15" fill="#111"/>
<circle cx="450.5" cy="412" r="1.15" fill="#111"/>
<circle cx="450.5" cy="320" r="1.15" fill="#111"/>
<circle cx="450.5" cy="335" r="1.15" fill="#111"/>
<circle cx="450.5" cy="345" r="1.15" fill="#111"/>
<rect x="461.8" y="266.4" width="11" height="87.7" fill="#ec4036" stroke="#c4211d" stroke-width="2"/>
<line x1="467.3" y1="354.6" x2="467.3" y2="361.5" stroke="#c4211d" stroke-width="1.8" stroke-linecap="butt"/>
<line x1="464.3" y1="361.5" x2="470.3" y2="361.5" stroke="#c4211d" stroke-width="1.8" stroke-linecap="butt"/>
<line x1="467.3" y1="354.6" x2="467.3" y2="349.2" stroke="#c4211d" stroke-width="1.8" stroke-linecap="butt"/>
<line x1="464.3" y1="349.2" x2="470.3" y2="349.2" stroke="#c4211d" stroke-width="1.8" stroke-linecap="butt"/>
<circle cx="467.4" cy="365.4" r="1.15" fill="#b52a2a"/>
<circle cx="467.2" cy="388.3" r="1.15" fill="#b52a2a"/>
<circle cx="467" cy="330" r="1.15" fill="#b52a2a"/>
<circle cx="467" cy="310" r="1.15" fill="#b52a2a"/>
<rect x="485.3" y="266.4" width="10.9" height="66.2" fill="#5a5a5a" stroke="#141414" stroke-width="2"/>
<line x1="490.75" y1="333.1" x2="490.75" y2="342.8" stroke="#141414" stroke-width="1.8" stroke-linecap="butt"/>
<line x1="487.75" y1="342.8" x2="493.75" y2="342.8" stroke="#141414" stroke-width="1.8" stroke-linecap="butt"/>
<line x1="490.75" y1="333.1" x2="490.75" y2="324.6" stroke="#141414" stroke-width="1.8" stroke-linecap="butt"/>
<line x1="487.75" y1="324.6" x2="493.75" y2="324.6" stroke="#141414" stroke-width="1.8" stroke-linecap="butt"/>
<circle cx="490.8" cy="351.5" r="1.15" fill="#111"/>
<circle cx="494.6" cy="358.8" r="1.15" fill="#111"/>
<circle cx="490.8" cy="360.8" r="1.15" fill="#111"/>
<circle cx="490.8" cy="372.3" r="1.15" fill="#111"/>
<circle cx="490.8" cy="304.6" r="1.15" fill="#111"/>
<circle cx="490.8" cy="310.8" r="1.15" fill="#111"/>
<circle cx="490.8" cy="316.2" r="1.15" fill="#111"/>
<circle cx="487.1" cy="383.5" r="1.15" fill="#111"/>
<circle cx="494.3" cy="382.5" r="1.15" fill="#111"/>
<rect x="502.5" y="266.4" width="10.7" height="88.5" fill="#ec4036" stroke="#c4211d" stroke-width="2"/>
<line x1="507.85" y1="355.4" x2="507.85" y2="363.5" stroke="#c4211d" stroke-width="1.8" stroke-linecap="butt"/>
<line x1="504.85" y1="363.5" x2="510.85" y2="363.5" stroke="#c4211d" stroke-width="1.8" stroke-linecap="butt"/>
<line x1="507.85" y1="355.4" x2="507.85" y2="349.2" stroke="#c4211d" stroke-width="1.8" stroke-linecap="butt"/>
<line x1="504.85" y1="349.2" x2="510.85" y2="349.2" stroke="#c4211d" stroke-width="1.8" stroke-linecap="butt"/>
<circle cx="507.4" cy="373.8" r="1.15" fill="#b52a2a"/>
<circle cx="507.4" cy="375.4" r="1.15" fill="#b52a2a"/>
<circle cx="507.3" cy="385.8" r="1.15" fill="#b52a2a"/>
<circle cx="507.3" cy="394.4" r="1.15" fill="#b52a2a"/>
<circle cx="507.5" cy="300" r="1.15" fill="#b52a2a"/>
<circle cx="507.5" cy="320" r="1.15" fill="#b52a2a"/>
<text x="390.4" y="353.5" font-size="14.3" font-weight="bold" text-anchor="middle" fill="#1c1c1c" transform="rotate(-90 390.4 353.5)">AUC in (% × min)</text>
<path d="M492.4,411 L492.4,416 L509.8,416 L509.8,411" fill="none" stroke="#141414" stroke-width="2"/>
<text x="484.2" y="431.7" font-size="11" fill="#3a3a3a"><tspan font-style="italic">P</tspan>=0.06</text>
<text x="459" y="462.7" font-size="12" text-anchor="middle" fill="#3a3a3a">EE KK</text>
<text x="498.8" y="462.7" font-size="12" text-anchor="middle" fill="#3a3a3a">EE KK</text>
<text x="458.4" y="484.6" font-size="14.5" font-style="italic" text-anchor="middle" fill="#3a3a3a">female</text>
<text x="498.8" y="484.6" font-size="14.5" font-style="italic" text-anchor="middle" fill="#3a3a3a">male</text>
<text x="1.2" y="525.2" font-size="20.5" font-weight="bold" text-anchor="start" fill="#1c1c1c">C</text>
<line x1="73.5" y1="525.19" x2="73.5" y2="642.8" stroke="#141414" stroke-width="2" stroke-linecap="butt"/>
<line x1="66.5" y1="641.8" x2="73.5" y2="641.8" stroke="#141414" stroke-width="2" stroke-linecap="butt"/>
<text x="63.3" y="646.32" font-size="12" font-weight="bold" text-anchor="end" fill="#1c1c1c">0.0</text>
<line x1="66.5" y1="603.26" x2="73.5" y2="603.26" stroke="#141414" stroke-width="2" stroke-linecap="butt"/>
<text x="63.3" y="607.79" font-size="12" font-weight="bold" text-anchor="end" fill="#1c1c1c">0.5</text>
<line x1="66.5" y1="564.73" x2="73.5" y2="564.73" stroke="#141414" stroke-width="2" stroke-linecap="butt"/>
<text x="63.3" y="569.25" font-size="12" font-weight="bold" text-anchor="end" fill="#1c1c1c">1.0</text>
<line x1="66.5" y1="526.19" x2="73.5" y2="526.19" stroke="#141414" stroke-width="2" stroke-linecap="butt"/>
<text x="63.3" y="530.72" font-size="12" font-weight="bold" text-anchor="end" fill="#1c1c1c">1.5</text>
<line x1="72.5" y1="641.8" x2="151.2" y2="641.8" stroke="#141414" stroke-width="2" stroke-linecap="butt"/>
<line x1="73.5" y1="641.8" x2="73.5" y2="648.8" stroke="#141414" stroke-width="2" stroke-linecap="butt"/>
<text x="73.5" y="664.2" font-size="12" font-weight="bold" text-anchor="middle" fill="#1c1c1c">0</text>
<line x1="101.2" y1="641.8" x2="101.2" y2="648.8" stroke="#141414" stroke-width="2" stroke-linecap="butt"/>
<text x="101.2" y="664.2" font-size="12" font-weight="bold" text-anchor="middle" fill="#1c1c1c">50</text>
<line x1="128.9" y1="641.8" x2="128.9" y2="648.8" stroke="#141414" stroke-width="2" stroke-linecap="butt"/>
<text x="128.9" y="664.2" font-size="12" font-weight="bold" text-anchor="middle" fill="#1c1c1c">100</text>
<text x="112.7" y="524.2" font-size="14.6" font-style="italic" text-anchor="middle" fill="#3a3a3a">female</text>
<text x="37.5" y="583.6" font-size="14.2" font-weight="bold" text-anchor="middle" fill="#1c1c1c" transform="rotate(-90 37.5 583.6)">Insulin (ng/mL)</text>
<text x="112.2" y="686.5" font-size="14.4" font-weight="bold" text-anchor="middle" fill="#1c1c1c">time (min)</text>
<path d="M73.50,613.67 L106.74,617.37 L139.98,617.91" fill="none" stroke="#141414" stroke-width="2.5" stroke-linejoin="round"/>
<line x1="73.5" y1="609.82" x2="73.5" y2="617.52" stroke="#141414" stroke-width="1.8" stroke-linecap="butt"/>
<line x1="70.5" y1="609.82" x2="76.5" y2="609.82" stroke="#141414" stroke-width="1.8" stroke-linecap="butt"/>
<line x1="70.5" y1="617.52" x2="76.5" y2="617.52" stroke="#141414" stroke-width="1.8" stroke-linecap="butt"/>
<circle cx="73.5" cy="613.67" r="3" fill="#141414"/>
<line x1="106.74" y1="609.66" x2="106.74" y2="625.08" stroke="#141414" stroke-width="1.8" stroke-linecap="butt"/>
<line x1="103.74" y1="609.66" x2="109.74" y2="609.66" stroke="#141414" stroke-width="1.8" stroke-linecap="butt"/>
<line x1="103.74" y1="625.08" x2="109.74" y2="625.08" stroke="#141414" stroke-width="1.8" stroke-linecap="butt"/>
<circle cx="106.74" cy="617.37" r="3" fill="#141414"/>
<line x1="139.98" y1="615.6" x2="139.98" y2="620.22" stroke="#141414" stroke-width="1.8" stroke-linecap="butt"/>
<line x1="136.98" y1="615.6" x2="142.98" y2="615.6" stroke="#141414" stroke-width="1.8" stroke-linecap="butt"/>
<line x1="136.98" y1="620.22" x2="142.98" y2="620.22" stroke="#141414" stroke-width="1.8" stroke-linecap="butt"/>
<circle cx="139.98" cy="617.91" r="3" fill="#141414"/>
<path d="M73.50,621.38 L106.74,624.46 L139.98,624.46" fill="none" stroke="#b6212a" stroke-width="2.5" stroke-linejoin="round"/>
<line x1="73.5" y1="619.06" x2="73.5" y2="623.69" stroke="#b6212a" stroke-width="1.8" stroke-linecap="butt"/>
<line x1="70.5" y1="619.06" x2="76.5" y2="619.06" stroke="#b6212a" stroke-width="1.8" stroke-linecap="butt"/>
<line x1="70.5" y1="623.69" x2="76.5" y2="623.69" stroke="#b6212a" stroke-width="1.8" stroke-linecap="butt"/>
<circle cx="73.5" cy="621.38" r="3" fill="#b6212a"/>
<line x1="106.74" y1="622.92" x2="106.74" y2="626" stroke="#b6212a" stroke-width="1.8" stroke-linecap="butt"/>
<line x1="103.74" y1="622.92" x2="109.74" y2="622.92" stroke="#b6212a" stroke-width="1.8" stroke-linecap="butt"/>
<line x1="103.74" y1="626" x2="109.74" y2="626" stroke="#b6212a" stroke-width="1.8" stroke-linecap="butt"/>
<circle cx="106.74" cy="624.46" r="3" fill="#b6212a"/>
<line x1="139.98" y1="622.15" x2="139.98" y2="626.77" stroke="#b6212a" stroke-width="1.8" stroke-linecap="butt"/>
<line x1="136.98" y1="622.15" x2="142.98" y2="622.15" stroke="#b6212a" stroke-width="1.8" stroke-linecap="butt"/>
<line x1="136.98" y1="626.77" x2="142.98" y2="626.77" stroke="#b6212a" stroke-width="1.8" stroke-linecap="butt"/>
<circle cx="139.98" cy="624.46" r="3" fill="#b6212a"/>
<line x1="321.3" y1="525.19" x2="321.3" y2="642.8" stroke="#141414" stroke-width="2" stroke-linecap="butt"/>
<line x1="314.3" y1="641.8" x2="321.3" y2="641.8" stroke="#141414" stroke-width="2" stroke-linecap="butt"/>
<text x="311.1" y="646.32" font-size="12" font-weight="bold" text-anchor="end" fill="#1c1c1c">0.0</text>
<line x1="314.3" y1="603.26" x2="321.3" y2="603.26" stroke="#141414" stroke-width="2" stroke-linecap="butt"/>
<text x="311.1" y="607.79" font-size="12" font-weight="bold" text-anchor="end" fill="#1c1c1c">0.5</text>
<line x1="314.3" y1="564.73" x2="321.3" y2="564.73" stroke="#141414" stroke-width="2" stroke-linecap="butt"/>
<text x="311.1" y="569.25" font-size="12" font-weight="bold" text-anchor="end" fill="#1c1c1c">1.0</text>
<line x1="314.3" y1="526.19" x2="321.3" y2="526.19" stroke="#141414" stroke-width="2" stroke-linecap="butt"/>
<text x="311.1" y="530.72" font-size="12" font-weight="bold" text-anchor="end" fill="#1c1c1c">1.5</text>
<line x1="320.3" y1="641.8" x2="398.3" y2="641.8" stroke="#141414" stroke-width="2" stroke-linecap="butt"/>
<line x1="321.3" y1="641.8" x2="321.3" y2="648.8" stroke="#141414" stroke-width="2" stroke-linecap="butt"/>
<text x="321.3" y="664.2" font-size="12" font-weight="bold" text-anchor="middle" fill="#1c1c1c">0</text>
<line x1="348.85" y1="641.8" x2="348.85" y2="648.8" stroke="#141414" stroke-width="2" stroke-linecap="butt"/>
<text x="348.85" y="664.2" font-size="12" font-weight="bold" text-anchor="middle" fill="#1c1c1c">50</text>
<line x1="376.4" y1="641.8" x2="376.4" y2="648.8" stroke="#141414" stroke-width="2" stroke-linecap="butt"/>
<text x="376.4" y="664.2" font-size="12" font-weight="bold" text-anchor="middle" fill="#1c1c1c">100</text>
<text x="357.6" y="523.5" font-size="14.6" font-style="italic" text-anchor="middle" fill="#3a3a3a">male</text>
<text x="287" y="584" font-size="14.2" font-weight="bold" text-anchor="middle" fill="#1c1c1c" transform="rotate(-90 287 584)">Insulin (ng/mL)</text>
<text x="359" y="687.7" font-size="14.4" font-weight="bold" text-anchor="middle" fill="#1c1c1c">time (min)</text>
<path d="M321.30,602.49 L354.36,597.10 L387.42,607.89" fill="none" stroke="#141414" stroke-width="2.5" stroke-linejoin="round"/>
<line x1="321.3" y1="598.64" x2="321.3" y2="606.35" stroke="#141414" stroke-width="1.8" stroke-linecap="butt"/>
<line x1="318.3" y1="598.64" x2="324.3" y2="598.64" stroke="#141414" stroke-width="1.8" stroke-linecap="butt"/>
<line x1="318.3" y1="606.35" x2="324.3" y2="606.35" stroke="#141414" stroke-width="1.8" stroke-linecap="butt"/>
<rect x="318.7" y="599.89" width="5.2" height="5.2" fill="#141414"/>
<line x1="354.36" y1="592.48" x2="354.36" y2="601.72" stroke="#141414" stroke-width="1.8" stroke-linecap="butt"/>
<line x1="351.36" y1="592.48" x2="357.36" y2="592.48" stroke="#141414" stroke-width="1.8" stroke-linecap="butt"/>
<line x1="351.36" y1="601.72" x2="357.36" y2="601.72" stroke="#141414" stroke-width="1.8" stroke-linecap="butt"/>
<rect x="351.76" y="594.5" width="5.2" height="5.2" fill="#141414"/>
<line x1="387.42" y1="604.04" x2="387.42" y2="611.74" stroke="#141414" stroke-width="1.8" stroke-linecap="butt"/>
<line x1="384.42" y1="604.04" x2="390.42" y2="604.04" stroke="#141414" stroke-width="1.8" stroke-linecap="butt"/>
<line x1="384.42" y1="611.74" x2="390.42" y2="611.74" stroke="#141414" stroke-width="1.8" stroke-linecap="butt"/>
<rect x="384.82" y="605.29" width="5.2" height="5.2" fill="#141414"/>
<path d="M321.30,599.41 L354.36,605.19 L387.42,610.97" fill="none" stroke="#b6212a" stroke-width="2.5" stroke-linejoin="round"/>
<line x1="321.3" y1="588.62" x2="321.3" y2="610.2" stroke="#b6212a" stroke-width="1.8" stroke-linecap="butt"/>
<line x1="318.3" y1="588.62" x2="324.3" y2="588.62" stroke="#b6212a" stroke-width="1.8" stroke-linecap="butt"/>
<line x1="318.3" y1="610.2" x2="324.3" y2="610.2" stroke="#b6212a" stroke-width="1.8" stroke-linecap="butt"/>
<rect x="318.7" y="596.81" width="5.2" height="5.2" fill="#b6212a"/>
<line x1="354.36" y1="599.8" x2="354.36" y2="610.59" stroke="#b6212a" stroke-width="1.8" stroke-linecap="butt"/>
<line x1="351.36" y1="599.8" x2="357.36" y2="599.8" stroke="#b6212a" stroke-width="1.8" stroke-linecap="butt"/>
<line x1="351.36" y1="610.59" x2="357.36" y2="610.59" stroke="#b6212a" stroke-width="1.8" stroke-linecap="butt"/>
<rect x="351.76" y="602.59" width="5.2" height="5.2" fill="#b6212a"/>
<line x1="387.42" y1="607.89" x2="387.42" y2="614.05" stroke="#b6212a" stroke-width="1.8" stroke-linecap="butt"/>
<line x1="384.42" y1="607.89" x2="390.42" y2="607.89" stroke="#b6212a" stroke-width="1.8" stroke-linecap="butt"/>
<line x1="384.42" y1="614.05" x2="390.42" y2="614.05" stroke="#b6212a" stroke-width="1.8" stroke-linecap="butt"/>
<rect x="384.82" y="608.37" width="5.2" height="5.2" fill="#b6212a"/>
<line x1="204.6" y1="524.4" x2="204.6" y2="642.4" stroke="#141414" stroke-width="2" stroke-linecap="butt"/>
<line x1="197.6" y1="641.4" x2="204.6" y2="641.4" stroke="#141414" stroke-width="2" stroke-linecap="butt"/>
<text x="194.4" y="645.92" font-size="12" font-weight="bold" text-anchor="end" fill="#1c1c1c">0</text>
<line x1="197.6" y1="612.4" x2="204.6" y2="612.4" stroke="#141414" stroke-width="2" stroke-linecap="butt"/>
<text x="194.4" y="616.92" font-size="12" font-weight="bold" text-anchor="end" fill="#1c1c1c">20</text>
<line x1="197.6" y1="583.4" x2="204.6" y2="583.4" stroke="#141414" stroke-width="2" stroke-linecap="butt"/>
<text x="194.4" y="587.92" font-size="12" font-weight="bold" text-anchor="end" fill="#1c1c1c">40</text>
<line x1="197.6" y1="554.4" x2="204.6" y2="554.4" stroke="#141414" stroke-width="2" stroke-linecap="butt"/>
<text x="194.4" y="558.92" font-size="12" font-weight="bold" text-anchor="end" fill="#1c1c1c">60</text>
<line x1="197.6" y1="525.4" x2="204.6" y2="525.4" stroke="#141414" stroke-width="2" stroke-linecap="butt"/>
<text x="194.4" y="529.92" font-size="12" font-weight="bold" text-anchor="end" fill="#1c1c1c">80</text>
<line x1="203.6" y1="641.4" x2="242.8" y2="641.4" stroke="#141414" stroke-width="2" stroke-linecap="butt"/>
<line x1="222.6" y1="641.4" x2="222.6" y2="648.4" stroke="#141414" stroke-width="2" stroke-linecap="butt"/>
<rect x="208.9" y="586.5" width="11.5" height="54.4" fill="#5a5a5a" stroke="#141414" stroke-width="2"/>
<line x1="214.65" y1="585.5" x2="214.65" y2="577" stroke="#141414" stroke-width="1.8" stroke-linecap="butt"/>
<line x1="211.65" y1="577" x2="217.65" y2="577" stroke="#141414" stroke-width="1.8" stroke-linecap="butt"/>
<line x1="214.65" y1="585.5" x2="214.65" y2="592" stroke="#141414" stroke-width="1.8" stroke-linecap="butt"/>
<line x1="211.65" y1="592" x2="217.65" y2="592" stroke="#141414" stroke-width="1.8" stroke-linecap="butt"/>
<circle cx="214.7" cy="561.9" r="1.15" fill="#111"/>
<circle cx="213.9" cy="595.2" r="1.15" fill="#111"/>
<circle cx="213.9" cy="603.8" r="1.15" fill="#111"/>
<circle cx="214" cy="615" r="1.15" fill="#111"/>
<rect x="225.8" y="602" width="12.4" height="38.9" fill="#ec4036" stroke="#c4211d" stroke-width="2"/>
<line x1="232" y1="601" x2="232" y2="595.2" stroke="#c4211d" stroke-width="1.8" stroke-linecap="butt"/>
<line x1="229" y1="595.2" x2="235" y2="595.2" stroke="#c4211d" stroke-width="1.8" stroke-linecap="butt"/>
<circle cx="232" cy="589.4" r="1.15" fill="#b52a2a"/>
<circle cx="232" cy="606" r="1.15" fill="#b52a2a"/>
<circle cx="232" cy="612" r="1.15" fill="#b52a2a"/>
<path d="M215,553.7 L215,550.6 L232.4,550.6 L232.4,553.7" fill="none" stroke="#141414" stroke-width="2"/>
<text x="206.7" y="543.4" font-size="11" fill="#3a3a3a"><tspan font-style="italic">P</tspan>=0.12</text>
<text x="172" y="583" font-size="14.5" font-weight="bold" text-anchor="middle" fill="#1c1c1c" transform="rotate(-90 172 583)">AUC (ng/mL × min)</text>
<text x="222.8" y="663" font-size="11" text-anchor="middle" fill="#3a3a3a">EE KK</text>
<line x1="457.3" y1="524.4" x2="457.3" y2="643.3" stroke="#141414" stroke-width="2" stroke-linecap="butt"/>
<line x1="450.3" y1="642.3" x2="457.3" y2="642.3" stroke="#141414" stroke-width="2" stroke-linecap="butt"/>
<text x="447.1" y="646.82" font-size="12" font-weight="bold" text-anchor="end" fill="#1c1c1c">0</text>
<line x1="450.3" y1="603.33" x2="457.3" y2="603.33" stroke="#141414" stroke-width="2" stroke-linecap="butt"/>
<text x="447.1" y="607.86" font-size="12" font-weight="bold" text-anchor="end" fill="#1c1c1c">50</text>
<line x1="450.3" y1="564.37" x2="457.3" y2="564.37" stroke="#141414" stroke-width="2" stroke-linecap="butt"/>
<text x="447.1" y="568.89" font-size="12" font-weight="bold" text-anchor="end" fill="#1c1c1c">100</text>
<line x1="450.3" y1="525.4" x2="457.3" y2="525.4" stroke="#141414" stroke-width="2" stroke-linecap="butt"/>
<text x="447.1" y="529.93" font-size="12" font-weight="bold" text-anchor="end" fill="#1c1c1c">150</text>
<line x1="456.3" y1="642.3" x2="494.2" y2="642.3" stroke="#141414" stroke-width="2" stroke-linecap="butt"/>
<line x1="477.9" y1="642.3" x2="477.9" y2="649.3" stroke="#141414" stroke-width="2" stroke-linecap="butt"/>
<rect x="463.5" y="595.2" width="11.5" height="46.6" fill="#5a5a5a" stroke="#141414" stroke-width="2"/>
<line x1="469.25" y1="594.2" x2="469.25" y2="587.9" stroke="#141414" stroke-width="1.8" stroke-linecap="butt"/>
<line x1="466.25" y1="587.9" x2="472.25" y2="587.9" stroke="#141414" stroke-width="1.8" stroke-linecap="butt"/>
<circle cx="469.2" cy="562.3" r="1.15" fill="#111"/>
<circle cx="469.2" cy="600" r="1.15" fill="#111"/>
<circle cx="469.2" cy="610" r="1.15" fill="#111"/>
<circle cx="469.2" cy="618" r="1.15" fill="#111"/>
<rect x="480.2" y="598.5" width="12.1" height="43.3" fill="#ec4036" stroke="#c4211d" stroke-width="2"/>
<line x1="486.25" y1="597.5" x2="486.25" y2="592.3" stroke="#c4211d" stroke-width="1.8" stroke-linecap="butt"/>
<line x1="483.25" y1="592.3" x2="489.25" y2="592.3" stroke="#c4211d" stroke-width="1.8" stroke-linecap="butt"/>
<circle cx="486" cy="583.5" r="1.15" fill="#b52a2a"/>
<circle cx="486" cy="586.9" r="1.15" fill="#b52a2a"/>
<circle cx="486" cy="600" r="1.15" fill="#b52a2a"/>
<circle cx="486" cy="606" r="1.15" fill="#b52a2a"/>
<text x="419" y="583" font-size="14.5" font-weight="bold" text-anchor="middle" fill="#1c1c1c" transform="rotate(-90 419 583)">AUC (ng/mL × min)</text>
<text x="478.2" y="661" font-size="11.5" text-anchor="middle" fill="#3a3a3a">EE KK</text>
<text x="0.9" y="720.2" font-size="21.5" font-weight="bold" text-anchor="start" fill="#1c1c1c">D</text>
<line x1="74.8" y1="725.89" x2="74.8" y2="842.6" stroke="#141414" stroke-width="2" stroke-linecap="butt"/>
<line x1="67" y1="841.6" x2="74.8" y2="841.6" stroke="#141414" stroke-width="2" stroke-linecap="butt"/>
<text x="64.6" y="846.12" font-size="12" font-weight="bold" text-anchor="end" fill="#1c1c1c">0</text>
<line x1="67" y1="803.37" x2="74.8" y2="803.37" stroke="#141414" stroke-width="2" stroke-linecap="butt"/>
<text x="64.6" y="807.89" font-size="12" font-weight="bold" text-anchor="end" fill="#1c1c1c">50</text>
<line x1="67" y1="765.13" x2="74.8" y2="765.13" stroke="#141414" stroke-width="2" stroke-linecap="butt"/>
<text x="64.6" y="769.65" font-size="12" font-weight="bold" text-anchor="end" fill="#1c1c1c">100</text>
<line x1="67" y1="726.89" x2="74.8" y2="726.89" stroke="#141414" stroke-width="2" stroke-linecap="butt"/>
<text x="64.6" y="731.42" font-size="12" font-weight="bold" text-anchor="end" fill="#1c1c1c">150</text>
<line x1="73.8" y1="841.6" x2="145.2" y2="841.6" stroke="#141414" stroke-width="2" stroke-linecap="butt"/>
<line x1="91.2" y1="841.6" x2="91.2" y2="848.6" stroke="#141414" stroke-width="2" stroke-linecap="butt"/>
<line x1="126.4" y1="841.6" x2="126.4" y2="848.6" stroke="#141414" stroke-width="2" stroke-linecap="butt"/>
<rect x="78.6" y="798.4" width="10.2" height="42.7" fill="#5a5a5a" stroke="#141414" stroke-width="2"/>
<line x1="83.7" y1="797.4" x2="83.7" y2="787.2" stroke="#141414" stroke-width="1.8" stroke-linecap="butt"/>
<line x1="80.7" y1="787.2" x2="86.7" y2="787.2" stroke="#141414" stroke-width="1.8" stroke-linecap="butt"/>
<circle cx="83.9" cy="772.7" r="1.15" fill="#111"/>
<circle cx="83.7" cy="805" r="1.15" fill="#111"/>
<circle cx="83.7" cy="815" r="1.15" fill="#111"/>
<rect x="93.9" y="813.7" width="11.1" height="27.4" fill="#ec4036" stroke="#c4211d" stroke-width="2"/>
<line x1="99.45" y1="812.7" x2="99.45" y2="809.4" stroke="#c4211d" stroke-width="1.8" stroke-linecap="butt"/>
<line x1="96.45" y1="809.4" x2="102.45" y2="809.4" stroke="#c4211d" stroke-width="1.8" stroke-linecap="butt"/>
<circle cx="99.5" cy="808" r="1.15" fill="#b52a2a"/>
<circle cx="99.5" cy="820" r="1.15" fill="#b52a2a"/>
<rect x="113.2" y="816.1" width="10.6" height="25" fill="#5a5a5a" stroke="#141414" stroke-width="2"/>
<line x1="118.5" y1="815.1" x2="118.5" y2="811.4" stroke="#141414" stroke-width="1.8" stroke-linecap="butt"/>
<line x1="115.5" y1="811.4" x2="121.5" y2="811.4" stroke="#141414" stroke-width="1.8" stroke-linecap="butt"/>
<circle cx="118.5" cy="804.8" r="1.15" fill="#111"/>
<circle cx="118.5" cy="822" r="1.15" fill="#111"/>
<circle cx="118.5" cy="828" r="1.15" fill="#111"/>
<rect x="129.5" y="827.6" width="10.6" height="13.5" fill="#ec4036" stroke="#c4211d" stroke-width="2"/>
<line x1="134.8" y1="826.6" x2="134.8" y2="824.1" stroke="#c4211d" stroke-width="1.8" stroke-linecap="butt"/>
<line x1="131.8" y1="824.1" x2="137.8" y2="824.1" stroke="#c4211d" stroke-width="1.8" stroke-linecap="butt"/>
<circle cx="134.9" cy="820" r="1.15" fill="#b52a2a"/>
<circle cx="134.9" cy="830" r="1.15" fill="#b52a2a"/>
<path d="M85.4,754.4 L85.4,751.6 L102.5,751.6 L102.5,754.4" fill="none" stroke="#141414" stroke-width="2"/>
<path d="M120.4,754.4 L120.4,751.6 L136.8,751.6 L136.8,754.4" fill="none" stroke="#141414" stroke-width="2"/>
<text x="76.5" y="745" font-size="11" fill="#3a3a3a"><tspan font-style="italic">P</tspan>=0.13</text>
<text x="115" y="745" font-size="11" fill="#3a3a3a"><tspan font-style="italic">P</tspan>=0.03</text>
<text x="115" y="716.6" font-size="14.6" font-style="italic" text-anchor="middle" fill="#3a3a3a">female</text>
<text x="20" y="785" font-size="13" font-weight="bold" text-anchor="middle" fill="#1c1c1c" transform="rotate(-90 20 785)">Insulin / glucose</text>
<text x="36.8" y="783.8" font-size="11.8" font-weight="bold" text-anchor="middle" fill="#1c1c1c" transform="rotate(-90 36.8 783.8)">(μg/L)/(mol/L)</text>
<text x="83.3" y="859.7" font-size="11" text-anchor="middle" fill="#3a3a3a">EE</text>
<text x="99.4" y="859.7" font-size="11" text-anchor="middle" fill="#3a3a3a">KK</text>
<text x="117.9" y="859.7" font-size="11" text-anchor="middle" fill="#3a3a3a">EE</text>
<text x="134.5" y="859.7" font-size="11" text-anchor="middle" fill="#3a3a3a">KK</text>
<text x="87.9" y="878.4" font-size="16.5" fill="#3a3a3a">t<tspan font-size="8.2" dy="2.6">0</tspan></text>
<text x="117" y="878.4" font-size="16.5" fill="#3a3a3a">t<tspan font-size="8.2" dy="2.6">0,120</tspan></text>
<line x1="321.4" y1="725.1" x2="321.4" y2="842.6" stroke="#141414" stroke-width="2" stroke-linecap="butt"/>
<line x1="313.6" y1="841.6" x2="321.4" y2="841.6" stroke="#141414" stroke-width="2" stroke-linecap="butt"/>
<text x="311.2" y="846.12" font-size="12" font-weight="bold" text-anchor="end" fill="#1c1c1c">0</text>
<line x1="313.6" y1="812.73" x2="321.4" y2="812.73" stroke="#141414" stroke-width="2" stroke-linecap="butt"/>
<text x="311.2" y="817.25" font-size="12" font-weight="bold" text-anchor="end" fill="#1c1c1c">50</text>
<line x1="313.6" y1="783.85" x2="321.4" y2="783.85" stroke="#141414" stroke-width="2" stroke-linecap="butt"/>
<text x="311.2" y="788.37" font-size="12" font-weight="bold" text-anchor="end" fill="#1c1c1c">100</text>
<line x1="313.6" y1="754.98" x2="321.4" y2="754.98" stroke="#141414" stroke-width="2" stroke-linecap="butt"/>
<text x="311.2" y="759.5" font-size="12" font-weight="bold" text-anchor="end" fill="#1c1c1c">150</text>
<line x1="313.6" y1="726.1" x2="321.4" y2="726.1" stroke="#141414" stroke-width="2" stroke-linecap="butt"/>
<text x="311.2" y="730.62" font-size="12" font-weight="bold" text-anchor="end" fill="#1c1c1c">200</text>
<line x1="320.4" y1="841.6" x2="391.3" y2="841.6" stroke="#141414" stroke-width="2" stroke-linecap="butt"/>
<line x1="338" y1="841.6" x2="338" y2="848.6" stroke="#141414" stroke-width="2" stroke-linecap="butt"/>
<line x1="372.7" y1="841.6" x2="372.7" y2="848.6" stroke="#141414" stroke-width="2" stroke-linecap="butt"/>
<rect x="324.8" y="800.4" width="10.5" height="40.7" fill="#5a5a5a" stroke="#141414" stroke-width="2"/>
<line x1="330.05" y1="799.4" x2="330.05" y2="793.2" stroke="#141414" stroke-width="1.8" stroke-linecap="butt"/>
<line x1="327.05" y1="793.2" x2="333.05" y2="793.2" stroke="#141414" stroke-width="1.8" stroke-linecap="butt"/>
<circle cx="330.2" cy="771.5" r="1.15" fill="#111"/>
<circle cx="330.2" cy="784" r="1.15" fill="#111"/>
<circle cx="330.2" cy="805" r="1.15" fill="#111"/>
<circle cx="330.2" cy="815" r="1.15" fill="#111"/>
<rect x="341.3" y="799.7" width="10.1" height="41.4" fill="#ec4036" stroke="#c4211d" stroke-width="2"/>
<line x1="346.35" y1="798.7" x2="346.35" y2="786.2" stroke="#c4211d" stroke-width="1.8" stroke-linecap="butt"/>
<line x1="343.35" y1="786.2" x2="349.35" y2="786.2" stroke="#c4211d" stroke-width="1.8" stroke-linecap="butt"/>
<circle cx="346" cy="745.2" r="1.15" fill="#b52a2a"/>
<circle cx="346" cy="800" r="1.15" fill="#b52a2a"/>
<circle cx="346" cy="815" r="1.15" fill="#b52a2a"/>
<rect x="360.3" y="818.2" width="10.1" height="22.9" fill="#5a5a5a" stroke="#141414" stroke-width="2"/>
<line x1="365.35" y1="817.2" x2="365.35" y2="814" stroke="#141414" stroke-width="1.8" stroke-linecap="butt"/>
<line x1="362.35" y1="814" x2="368.35" y2="814" stroke="#141414" stroke-width="1.8" stroke-linecap="butt"/>
<circle cx="366.8" cy="809.7" r="1.15" fill="#111"/>
<circle cx="363" cy="815.5" r="1.15" fill="#111"/>
<circle cx="368" cy="816" r="1.15" fill="#111"/>
<circle cx="366" cy="822" r="1.15" fill="#111"/>
<circle cx="366" cy="828" r="1.15" fill="#111"/>
<rect x="376.4" y="825.8" width="10.1" height="15.3" fill="#ec4036" stroke="#c4211d" stroke-width="2"/>
<line x1="381.45" y1="824.8" x2="381.45" y2="821.3" stroke="#c4211d" stroke-width="1.8" stroke-linecap="butt"/>
<line x1="378.45" y1="821.3" x2="384.45" y2="821.3" stroke="#c4211d" stroke-width="1.8" stroke-linecap="butt"/>
<circle cx="377.5" cy="822.5" r="1.15" fill="#b52a2a"/>
<circle cx="380.5" cy="822" r="1.15" fill="#b52a2a"/>
<circle cx="384.5" cy="822.3" r="1.15" fill="#b52a2a"/>
<circle cx="386.5" cy="821.5" r="1.15" fill="#b52a2a"/>
<circle cx="381.5" cy="830" r="1.15" fill="#b52a2a"/>
<path d="M366.7,754.4 L366.7,751.6 L383.8,751.6 L383.8,754.4" fill="none" stroke="#141414" stroke-width="2"/>
<text x="358.8" y="743" font-size="11" fill="#3a3a3a"><tspan font-style="italic">P</tspan>=0.04</text>
<text x="357.5" y="716.6" font-size="14.6" font-style="italic" text-anchor="middle" fill="#3a3a3a">male</text>
<text x="266.9" y="785" font-size="13" font-weight="bold" text-anchor="middle" fill="#1c1c1c" transform="rotate(-90 266.9 785)">Insulin / glucose</text>
<text x="283.7" y="783.8" font-size="11.8" font-weight="bold" text-anchor="middle" fill="#1c1c1c" transform="rotate(-90 283.7 783.8)">(μg/L)/(mol/L)</text>
<text x="328.6" y="859.7" font-size="11" text-anchor="middle" fill="#3a3a3a">EE</text>
<text x="346.4" y="859.7" font-size="11" text-anchor="middle" fill="#3a3a3a">KK</text>
<text x="364.5" y="859.7" font-size="11" text-anchor="middle" fill="#3a3a3a">EE</text>
<text x="381.8" y="859.7" font-size="11" text-anchor="middle" fill="#3a3a3a">KK</text>
<text x="334" y="878.4" font-size="16.5" fill="#3a3a3a">t<tspan font-size="8.2" dy="2.6">0</tspan></text>
<text x="366.4" y="878.4" font-size="16.5" fill="#3a3a3a">t<tspan font-size="8.2" dy="2.6">0,120</tspan></text>
</svg>
</body></html>
